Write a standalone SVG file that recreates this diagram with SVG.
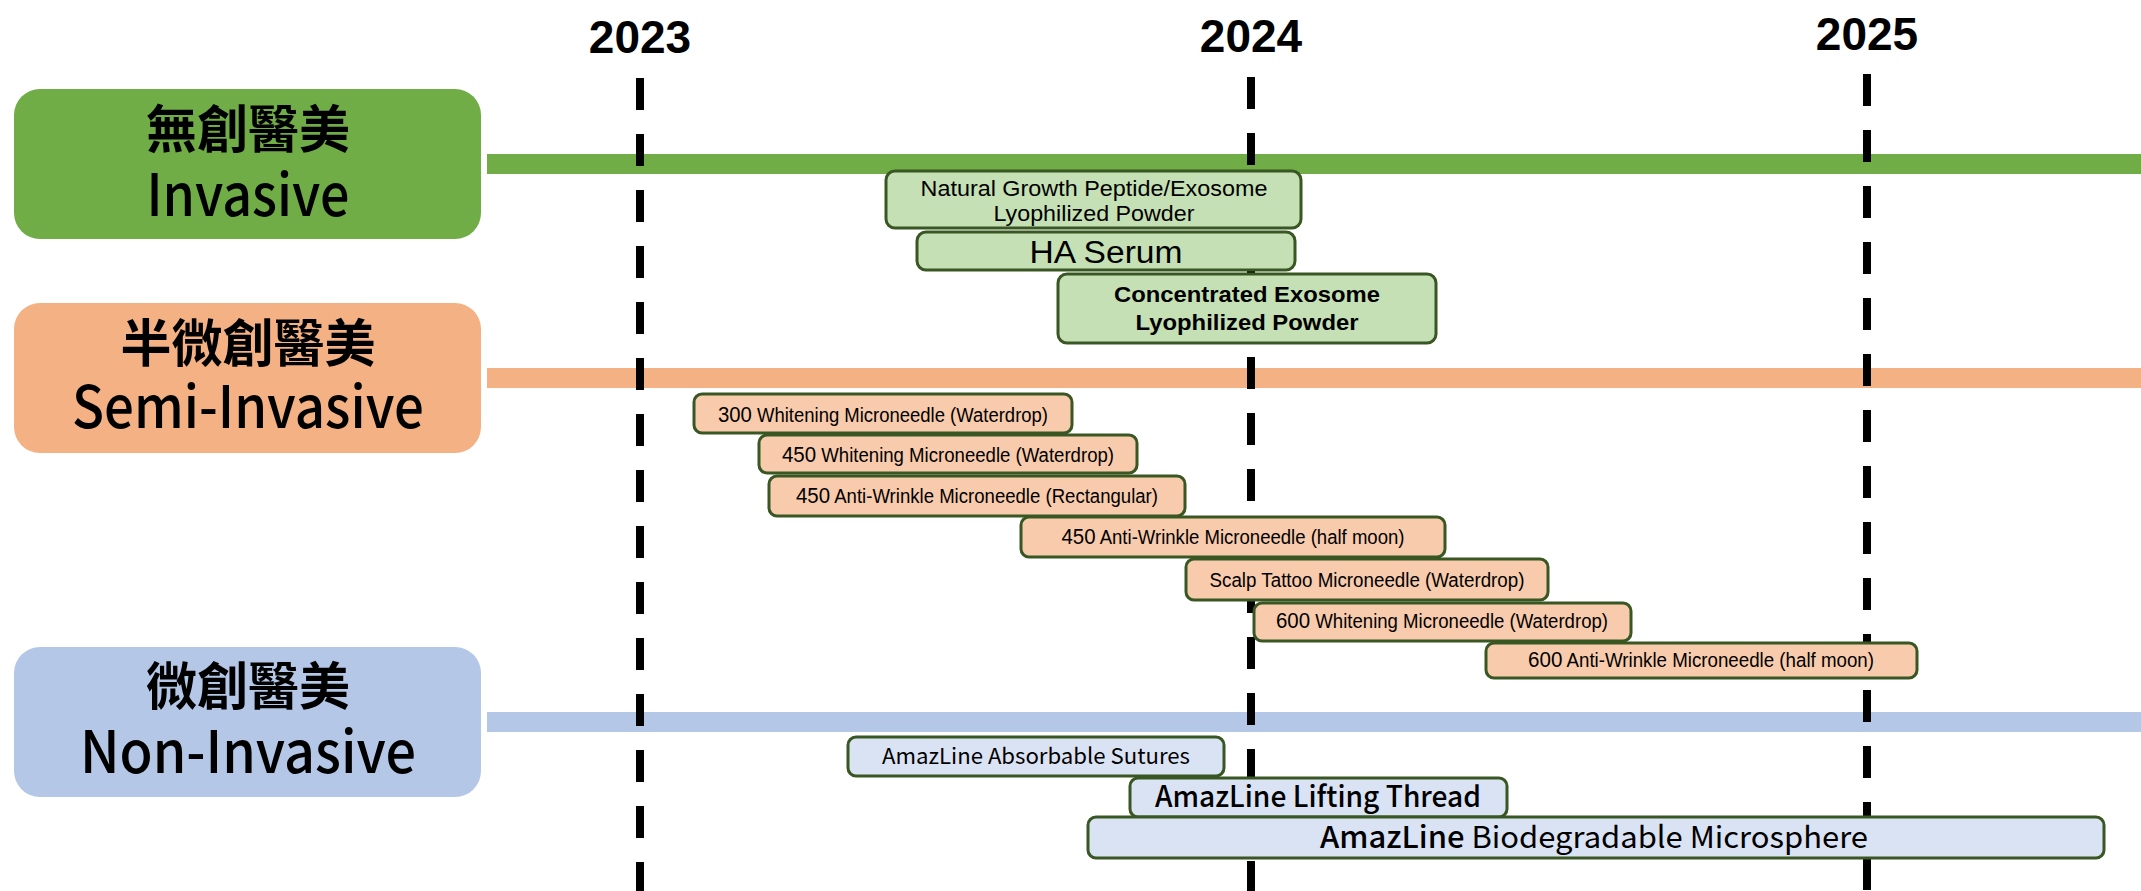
<svg xmlns="http://www.w3.org/2000/svg" width="2141" height="891" viewBox="0 0 2141 891">
<style>
.cat{font-family:"Noto Sans CJK TC","Noto Sans",sans-serif;font-size:58px;font-weight:500;fill:#000;text-anchor:middle}
.cjk{font-family:"Noto Sans CJK TC","Noto Sans CJK SC",sans-serif;font-size:51px;font-weight:bold;fill:#000;text-anchor:middle}
.yr{font-family:"Liberation Sans",Arial,sans-serif;font-size:46px;font-weight:bold;fill:#000;text-anchor:middle}
.nar{font-family:"Liberation Sans Narrow","Liberation Sans",Arial,sans-serif;fill:#000;text-anchor:middle}
.cal{font-family:"Noto Sans CJK TC","Noto Sans",sans-serif;fill:#000;text-anchor:middle}
.bx{stroke:#385723;stroke-width:3}
.g{fill:#C5E0B4}.o{fill:#F8CBAD}.b{fill:#DAE3F3}
.dash{stroke:#000;stroke-width:8;stroke-dasharray:32 24;fill:none}
</style>

<g id="categories">
  <g id="cat-invasive">
    <rect x="14" y="89" width="467" height="150" rx="26" fill="#70AD47"/>
    <text class="cjk" x="248" y="148">無創醫美</text>
    <text class="cat" x="248" y="216" textLength="203" lengthAdjust="spacingAndGlyphs">Invasive</text>
  </g>
  <g id="cat-semi">
    <rect x="14" y="303" width="467" height="150" rx="26" fill="#F4B183"/>
    <text class="cjk" x="248" y="362">半微創醫美</text>
    <text class="cat" x="248" y="428" textLength="352" lengthAdjust="spacingAndGlyphs">Semi-Invasive</text>
  </g>
  <g id="cat-non">
    <rect x="14" y="647" width="467" height="150" rx="26" fill="#B4C7E7"/>
    <text class="cjk" x="248" y="705">微創醫美</text>
    <text class="cat" x="248" y="773" textLength="336" lengthAdjust="spacingAndGlyphs">Non-Invasive</text>
  </g>
</g>

<g id="timeline">
  <rect x="487" y="154" width="1654" height="20" fill="#70AD47"/>
  <rect x="487" y="368" width="1654" height="20" fill="#F4B183"/>
  <rect x="487" y="712" width="1654" height="20" fill="#B4C7E7"/>
  <line class="dash" x1="640" y1="78" x2="640" y2="891"/>
  <line class="dash" x1="1251" y1="77" x2="1251" y2="891"/>
  <line class="dash" x1="1867" y1="74" x2="1867" y2="891"/>
  <text class="yr" x="640" y="53">2023</text>
  <text class="yr" x="1251" y="52">2024</text>
  <text class="yr" x="1867" y="50">2025</text>
</g>

<g id="invasive-items">
  <g id="n1">
    <rect class="bx g" x="886" y="171" width="415" height="57" rx="9"/>
    <text class="nar" x="1094" y="196" font-size="22" textLength="347" lengthAdjust="spacingAndGlyphs">Natural Growth Peptide/Exosome</text>
    <text class="nar" x="1094" y="221" font-size="22" textLength="201" lengthAdjust="spacingAndGlyphs">Lyophilized Powder</text>
  </g>
  <g id="n2">
    <rect class="bx g" x="917" y="232" width="378" height="38" rx="9"/>
    <text class="nar" x="1106" y="263" font-size="31" textLength="153" lengthAdjust="spacingAndGlyphs">HA Serum</text>
  </g>
  <g id="n3">
    <rect class="bx g" x="1058" y="274" width="378" height="69" rx="9"/>
    <text class="nar" x="1247" y="302" font-size="22" font-weight="bold" textLength="266" lengthAdjust="spacingAndGlyphs">Concentrated Exosome</text>
    <text class="nar" x="1247" y="330" font-size="22" font-weight="bold" textLength="223" lengthAdjust="spacingAndGlyphs">Lyophilized Powder</text>
  </g>
</g>

<g id="semi-items">
  <g id="s1">
    <rect class="bx o" x="694" y="394" width="378" height="39" rx="8"/>
    <text class="nar" x="883" y="422" font-size="20" textLength="330" lengthAdjust="spacingAndGlyphs"><tspan font-size="22">300</tspan> Whitening Microneedle (Waterdrop)</text>
  </g>
  <g id="s2">
    <rect class="bx o" x="759" y="435" width="378" height="38" rx="8"/>
    <text class="nar" x="948" y="462" font-size="20" textLength="332" lengthAdjust="spacingAndGlyphs"><tspan font-size="22">450</tspan> Whitening Microneedle (Waterdrop)</text>
  </g>
  <g id="s3">
    <rect class="bx o" x="769" y="476" width="416" height="40" rx="8"/>
    <text class="nar" x="977" y="503" font-size="20" textLength="362" lengthAdjust="spacingAndGlyphs"><tspan font-size="22">450</tspan> Anti-Wrinkle Microneedle (Rectangular)</text>
  </g>
  <g id="s4">
    <rect class="bx o" x="1021" y="517" width="424" height="40" rx="8"/>
    <text class="nar" x="1233" y="544" font-size="20" textLength="343" lengthAdjust="spacingAndGlyphs"><tspan font-size="22">450</tspan> Anti-Wrinkle Microneedle (half moon)</text>
  </g>
  <g id="s5">
    <rect class="bx o" x="1186" y="559" width="362" height="41" rx="8"/>
    <text class="nar" x="1367" y="587" font-size="20" textLength="315" lengthAdjust="spacingAndGlyphs">Scalp Tattoo Microneedle (Waterdrop)</text>
  </g>
  <g id="s6">
    <rect class="bx o" x="1254" y="603" width="377" height="38" rx="8"/>
    <text class="nar" x="1442" y="628" font-size="20" textLength="332" lengthAdjust="spacingAndGlyphs"><tspan font-size="22">600</tspan> Whitening Microneedle (Waterdrop)</text>
  </g>
  <g id="s7">
    <rect class="bx o" x="1486" y="643" width="431" height="35" rx="8"/>
    <text class="nar" x="1701" y="667" font-size="20" textLength="346" lengthAdjust="spacingAndGlyphs"><tspan font-size="22">600</tspan> Anti-Wrinkle Microneedle (half moon)</text>
  </g>
</g>

<g id="non-items">
  <g id="m1">
    <rect class="bx b" x="848" y="737" width="376" height="39" rx="8"/>
    <text class="cal" x="1036" y="764" font-size="22" textLength="308" lengthAdjust="spacingAndGlyphs">AmazLine Absorbable Sutures</text>
  </g>
  <g id="m2">
    <rect class="bx b" x="1130" y="778" width="377" height="39" rx="8"/>
    <text class="cal" x="1318" y="807" font-size="29" font-weight="500" textLength="326" lengthAdjust="spacingAndGlyphs">AmazLine Lifting Thread</text>
  </g>
  <g id="m3">
    <rect class="bx b" x="1088" y="817" width="1016" height="41" rx="8"/>
    <text class="cal" x="1594" y="848" font-size="30" textLength="548" lengthAdjust="spacingAndGlyphs"><tspan font-weight="500">AmazLine</tspan> Biodegradable Microsphere</text>
  </g>
</g>
</svg>
